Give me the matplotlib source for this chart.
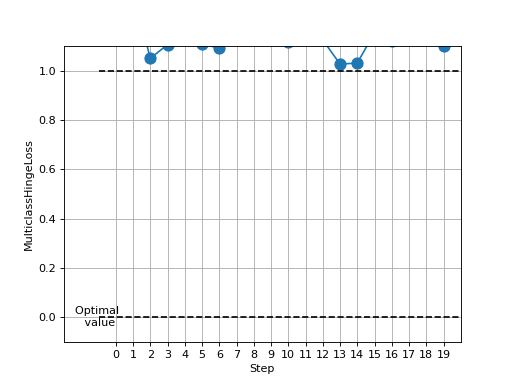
import matplotlib
matplotlib.use("Agg")
import matplotlib.pyplot as plt
import numpy as np

steps = list(range(20))
values = [1.25, 1.33, 1.05, 1.106, 1.20, 1.108, 1.092, 1.30, 1.22, 1.28,
          1.115, 1.20, 1.125, 1.027, 1.031, 1.155, 1.12, 1.25, 1.20, 1.10]
optimal_value = 0.0
upper_bound = 1.0

fig, ax = plt.subplots(figsize=(6.4, 4.8), dpi=80)
ax.plot(steps, values, marker="o", markersize=10, color="C0")
ax.hlines(optimal_value, -1, 20, linestyles="dashed", colors="k", linewidth=1.5)
ax.hlines(upper_bound, -1, 20, linestyles="dashed", colors="k", linewidth=1.5)
ax.text(-1, optimal_value, "Optimal \n value", ha="center", va="center")
ax.set_xlim(-3, 20)
ax.set_ylim(-0.1, 1.1)
ax.set_xticks(steps)
ax.set_xlabel("Step")
ax.set_ylabel("MulticlassHingeLoss")
ax.grid(True)
fig.savefig("out.png", dpi=80)
